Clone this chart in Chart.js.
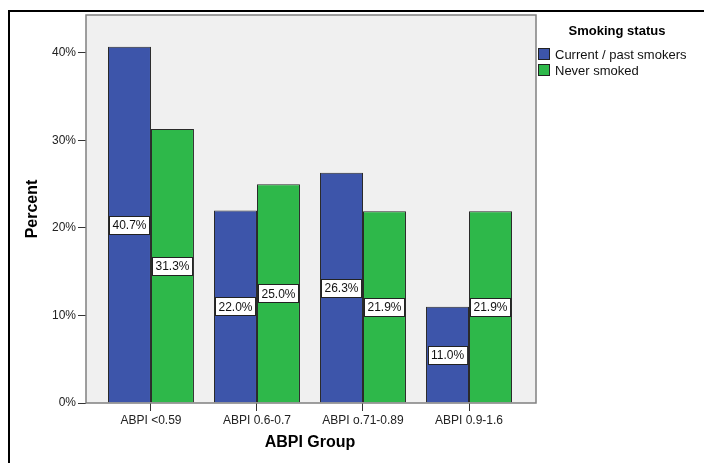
<!DOCTYPE html>
<html>
<head>
<meta charset="utf-8">
<script src="https://cdn.jsdelivr.net/npm/chart.js@4.4.1/dist/chart.umd.min.js"></script>
<style>
  html, body { margin: 0; padding: 0; background: #fff; }
  #wrap { position: relative; width: 704px; height: 463px; }
</style>
</head>
<body>
<div id="wrap"><canvas id="chart" width="704" height="463"></canvas></div>
<script>
// ABPI groups and percentage of each smoking group
const groups = ["ABPI <0.59", "ABPI 0.6-0.7", "ABPI o.71-0.89", "ABPI 0.9-1.6"];
const smokers = [40.7, 22.0, 26.3, 11.0];
const neverSmoked = [31.3, 25.0, 21.9, 21.9];
const seriesNames = ["Current / past smokers", "Never smoked"];
const yTicks = [0, 10, 20, 30, 40];

const blue = "#3d55aa";
const green = "#2eb84a";
const font = "Arial, 'Liberation Sans', sans-serif";

const toPoints = (arr) => arr.map((v, i) => ({ x: i, y: v }));

// gray plot background, frame and border
const plotBox = {
  id: "plotBox",
  beforeDraw(chart) {
    const { ctx, chartArea: a } = chart;
    ctx.save();
    ctx.fillStyle = "#f0f0f0";
    ctx.fillRect(a.left, a.top, a.right - a.left, a.bottom - a.top);
    ctx.strokeStyle = "#000";
    ctx.lineWidth = 2;
    ctx.beginPath();
    ctx.moveTo(9, 463);
    ctx.lineTo(9, 11);
    ctx.lineTo(704, 11);
    ctx.stroke();
    ctx.restore();
  },
  afterDatasetsDraw(chart) {
    const { ctx, chartArea: a } = chart;
    ctx.save();
    ctx.strokeStyle = "#808080";
    ctx.lineWidth = 1.5;
    ctx.strokeRect(a.left, a.top, a.right - a.left, a.bottom - a.top);
    ctx.restore();
  }
};

// value boxes in the middle of each bar, axis titles and legend
const annotations = {
  id: "annotations",
  afterDraw(chart) {
    const { ctx } = chart;
    ctx.save();
    ctx.font = "12px " + font;
    ctx.textAlign = "center";
    ctx.textBaseline = "middle";
    chart.data.datasets.forEach((ds, di) => {
      chart.getDatasetMeta(di).data.forEach((bar, i) => {
        const txt = ds.data[i].y.toFixed(1) + "%";
        const cy = (bar.y + bar.base) / 2;
        const w = ctx.measureText(txt).width + 6;
        const h = 18;
        const x0 = Math.round(bar.x - w / 2) + 0.5;
        const y0 = Math.round(cy - h / 2) + 0.5;
        ctx.fillStyle = "#fff";
        ctx.fillRect(x0, y0, w, h);
        ctx.strokeStyle = "#222";
        ctx.lineWidth = 1;
        ctx.strokeRect(x0, y0, w, h);
        ctx.fillStyle = "#111";
        ctx.fillText(txt, bar.x, cy + 1);
      });
    });

    // axis titles
    ctx.fillStyle = "#000";
    ctx.font = "bold 16px " + font;
    ctx.fillText("ABPI Group", 310, 443);
    ctx.save();
    ctx.translate(33, 209);
    ctx.rotate(-Math.PI / 2);
    ctx.fillText("Percent", 0, 0);
    ctx.restore();

    // legend
    ctx.font = "bold 13px " + font;
    ctx.fillText("Smoking status", 617, 31);
    ctx.textAlign = "left";
    ctx.font = "13px " + font;
    [blue, green].forEach((c, k) => {
      const y = 48 + k * 16;
      ctx.fillStyle = c;
      ctx.fillRect(538.5, y + 0.5, 11, 11);
      ctx.strokeStyle = "#222";
      ctx.strokeRect(538.5, y + 0.5, 11, 11);
      ctx.fillStyle = "#111";
      ctx.fillText(seriesNames[k], 555, y + 7);
    });
    ctx.restore();
  }
};

new Chart(document.getElementById("chart"), {
  type: "bar",
  plugins: [plotBox, annotations],
  data: {
    datasets: [
      { label: seriesNames[0], data: toPoints(smokers), backgroundColor: blue },
      { label: seriesNames[1], data: toPoints(neverSmoked), backgroundColor: green }
    ]
  },
  options: {
    responsive: false,
    animation: false,
    events: [],
    layout: { padding: { left: 0, top: 15, right: 168, bottom: 0 } },
    datasets: {
      bar: {
        borderColor: "#2a2a2a",
        borderWidth: 1,
        barPercentage: 1,
        categoryPercentage: 0.811
      }
    },
    plugins: { legend: { display: false }, tooltip: { enabled: false } },
    scales: {
      x: {
        type: "linear",
        min: -0.613,
        max: 3.632,
        offset: false,
        afterFit(s) { s.height = 60; },
        afterBuildTicks(s) { s.ticks = groups.map((_, i) => ({ value: i })); },
        grid: { offset: false, drawOnChartArea: false, drawTicks: true, tickLength: 8, color: "#333" },
        border: { display: false },
        ticks: {
          color: "#222",
          font: { family: font, size: 12 },
          padding: 2,
          maxRotation: 0,
          callback: (v) => groups[v]
        }
      },
      y: {
        min: 0,
        max: 44.34,
        afterFit(s) { s.width = 86; },
        afterBuildTicks(s) { s.ticks = yTicks.map((v) => ({ value: v })); },
        grid: { drawOnChartArea: false, drawTicks: true, tickLength: 8, color: "#333" },
        border: { display: false },
        ticks: {
          color: "#222",
          font: { family: font, size: 12 },
          padding: 2,
          callback: (v) => v + "%"
        }
      }
    }
  }
});
</script>
</body>
</html>
